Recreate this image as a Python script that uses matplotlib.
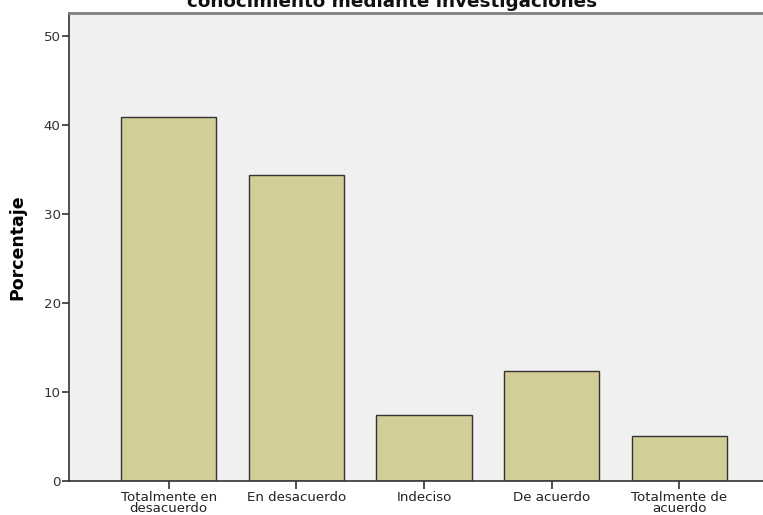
import matplotlib
matplotlib.use("Agg")
from matplotlib import pyplot as plt
import numpy as np

categorias = ["Totalmente en\ndesacuerdo", "En desacuerdo", "Indeciso",
              "De acuerdo", "Totalmente de\nacuerdo"]
porcentaje = [40.9, 34.4, 7.4, 12.4, 5.1]
yticks = [0, 10, 20, 30, 40, 50]

fig = plt.figure(figsize=(7.63, 5.15), dpi=100)
ax = fig.add_axes([69 / 763, 34 / 515, 710 / 763, 468 / 515])
ax.set_facecolor("#F0F0F0")

x = np.arange(len(categorias))
ax.bar(x, porcentaje, width=0.745, color="#D3CE98", edgecolor="#333333", linewidth=1.0, zorder=2)

ax.set_xlim(-0.78, len(categorias) - 1 + 0.78)
ax.set_ylim(0, 52.6)
ax.set_yticks(yticks)
ax.set_xticks(x)
ax.set_xticklabels(categorias, fontsize=9.6, color="#222222", linespacing=0.82)
ax.tick_params(axis="y", labelsize=9.6, labelcolor="#333333", length=5, width=1.2, color="#333333", pad=1)
ax.tick_params(axis="x", length=6, width=1.2, color="#333333", pad=1)

for s in ["left", "bottom"]:
    ax.spines[s].set_color("#333333")
    ax.spines[s].set_linewidth(1.2)
ax.spines["top"].set_color("#808080")
ax.spines["top"].set_linewidth(2)
ax.spines["right"].set_visible(False)

ax.set_ylabel("Porcentaje", fontsize=12.5, fontweight="bold", labelpad=12)

# titulo cortado arriba, como en la imagen original
fig.text(392 / 763, 1 - 7 / 515, "conocimiento mediante investigaciones",
         ha="center", va="baseline", fontsize=13.2, fontweight="bold", color="#111111")

fig.savefig("out.png", dpi=100)
